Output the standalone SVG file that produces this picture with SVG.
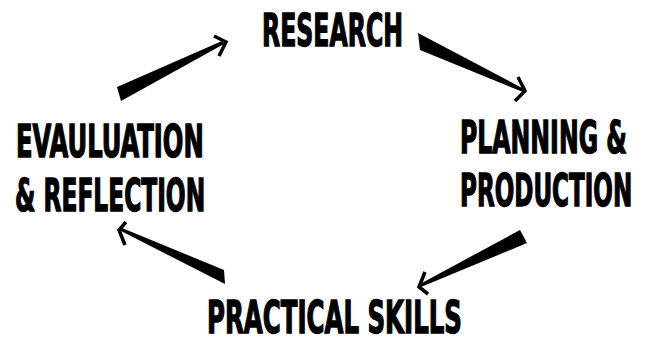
<svg xmlns="http://www.w3.org/2000/svg" width="652" height="338" viewBox="0 0 652 338">
<style>
.t{font-family:"DejaVu Sans Condensed","DejaVu Sans","Liberation Sans",sans-serif;font-weight:bold;font-stretch:condensed;font-size:45px;fill:#000;stroke:#000;stroke-width:1.4;stroke-linejoin:miter}
.body{fill:#000}
.head{fill:none;stroke:#000;stroke-width:3.5;stroke-linejoin:miter;stroke-linecap:butt}
</style>
<rect width="652" height="338" fill="#fff"/>
<g id="research"><text class="t" transform="translate(262,46) scale(0.6,1)" textLength="235" lengthAdjust="spacingAndGlyphs">RESEARCH</text></g>
<g id="planning"><text class="t" transform="translate(460,153) scale(0.6,1)" textLength="278" lengthAdjust="spacingAndGlyphs">PLANNING &amp;</text><text class="t" transform="translate(460,206) scale(0.6,1)" textLength="287" lengthAdjust="spacingAndGlyphs">PRODUCTION</text></g>
<g id="practical"><text class="t" transform="translate(207,333) scale(0.6,1)" textLength="425" lengthAdjust="spacingAndGlyphs">PRACTICAL SKILLS</text></g>
<g id="evaluation"><text class="t" transform="translate(16,157) scale(0.6,1)" textLength="313" lengthAdjust="spacingAndGlyphs">EVAULUATION</text><text class="t" transform="translate(15,211) scale(0.6,1)" textLength="317" lengthAdjust="spacingAndGlyphs">&amp; REFLECTION</text></g>
<g id="connectors">
<polygon class="body" points="117,87 121,101 224,44 222,41"/>
<polyline class="head" points="214,36 226,42 219,56"/>
<polygon class="body" points="418,33 420,50 523,92 524,89"/>
<polyline class="head" points="518,77 525,91 515,101"/>
<polygon class="body" points="520,230 527,243 421,287 420,284"/>
<polyline class="head" points="425,272 419,287 428,294"/>
<polygon class="body" points="224,270 225,284 121,231 122,228"/>
<polyline class="head" points="126,222 119,230 125,245"/>
</g>
</svg>
